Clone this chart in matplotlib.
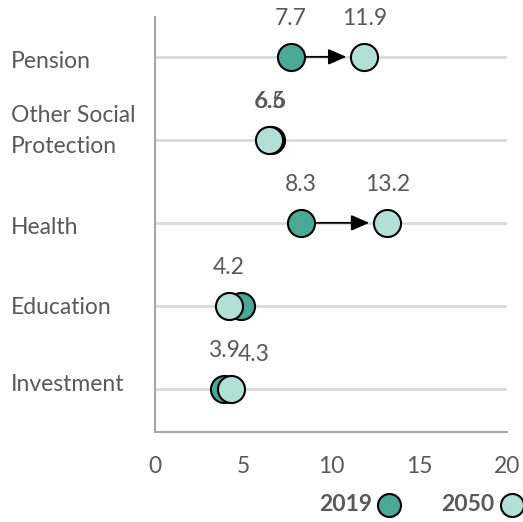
import matplotlib.pyplot as plt
import matplotlib.transforms as mtransforms

plt.rcParams['font.family'] = ['Lato', 'DejaVu Sans']

# spending by category, % of GDP
categories = ['Investment', 'Education', 'Health', 'Other Social\nProtection', 'Pension']
val_2019 = [3.9, 4.9, 8.3, 6.6, 7.7]
val_2050 = [4.3, 4.2, 13.2, 6.5, 11.9]

years = ['2019', '2050']
colors = {'2019': '#4aa996', '2050': '#b3e0d6'}
text_gray = '#595959'
fs = 16.5

# label tweaks where values sit on top of each other (px right, px down)
hide_label = {('Education', '2019')}
label_shift = {('Investment', '2050'): (23, 4)}
# vertical nudge (px, down) for category names
name_nudge = [-4, 2, 5, -9, 5]

fig = plt.figure(figsize=(5.23, 5.22), dpi=100)
ax = fig.add_axes([155 / 523, 1 - 432 / 522, 352 / 523, 415 / 522])

y = list(range(len(categories)))

for yi in y:
    ax.axhline(yi, color='#d9d9d9', lw=2, zorder=0)

ax.scatter(val_2019, y, s=380, color=colors['2019'], edgecolor='black', linewidth=1.5, zorder=3, label='2019')
ax.scatter(val_2050, y, s=380, color=colors['2050'], edgecolor='black', linewidth=1.5, zorder=4, label='2050')

# arrows for the big moves
for yi, a, b in zip(y, val_2019, val_2050):
    if abs(b - a) > 1:
        ax.annotate('', xy=(b, yi), xytext=(a, yi),
                    arrowprops=dict(arrowstyle='-|>,head_length=1.1,head_width=0.48', color='black', lw=1.3,
                                    shrinkA=9.5, shrinkB=13.0),
                    zorder=2)

# value labels
for cat, yi, a, b in zip(categories, y, val_2019, val_2050):
    for yr, v in (('2019', a), ('2050', b)):
        name = cat.replace('\n', ' ')
        if (name, yr) in hide_label:
            continue
        dx, dy = label_shift.get((name, yr), (0, 0))
        ax.annotate(f'{v:.1f}', xy=(v, yi), xytext=(dx * 0.72, (38 - dy) * 0.72), textcoords='offset points',
                    ha='center', va='center', fontsize=fs, color=text_gray)

ax.set_xlim(0, 20)
ax.set_ylim(-0.52, 4.48)
ax.set_xticks([0, 5, 10, 15, 20])
ax.tick_params(axis='x', length=0, pad=17, labelsize=fs, labelcolor=text_gray)
ax.set_yticks([])

for s in ['top', 'right']:
    ax.spines[s].set_visible(False)
for s in ['left', 'bottom']:
    ax.spines[s].set_color('#a6a6a6')
    ax.spines[s].set_linewidth(1.5)

# category names, left aligned near the figure edge
for yi, cat, nud in zip(y, categories, name_nudge):
    trans = mtransforms.blended_transform_factory(fig.transFigure, ax.transData) + \
        mtransforms.ScaledTranslation(0, -nud / 100, fig.dpi_scale_trans)
    ax.text(11 / 523, yi, cat, transform=trans, ha='left', va='center', fontsize=fs,
            color=text_gray, linespacing=1.6)

leg = ax.legend(loc='lower right', bbox_to_anchor=(1.025, -3 / 522), bbox_transform=fig.transFigure,
                ncol=2, frameon=False, markerfirst=False, markerscale=0.85, handletextpad=0.15,
                handlelength=1.2, columnspacing=1.7, prop={'weight': 'bold', 'size': fs},
                borderaxespad=0.05)
for t in leg.get_texts():
    t.set_color(text_gray)

fig.savefig('out.png', dpi=100)
